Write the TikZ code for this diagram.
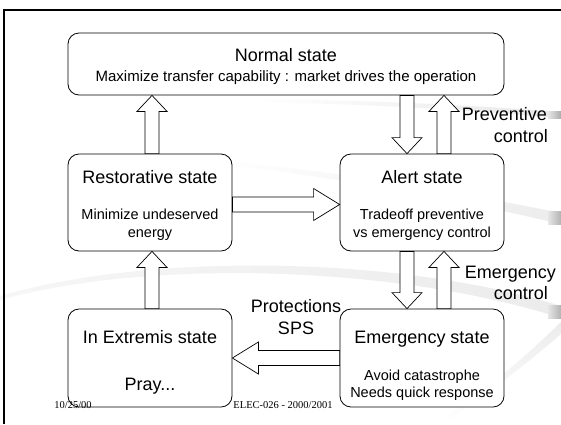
\documentclass[tikz,border=0pt]{standalone}
\usepackage{fontspec}
\setmainfont{Liberation Sans}
\newfontfamily\footfont{Liberation Serif}
\usetikzlibrary{calc}
\newcommand\varrow[3]{%
  \draw[barrow] let \p1=(#1), \p2=(#2) in
  ({\x1-7pt},\y1) -- ({\x1-7pt},{\y2-(#3pt)}) -- ({\x1-15pt},{\y2-(#3pt)}) -- (\x1,\y2)
  -- ({\x1+15pt},{\y2-(#3pt)}) -- ({\x1+7pt},{\y2-(#3pt)}) -- ({\x1+7pt},\y1) -- cycle;}
\newcommand\harrow[3]{%
  \draw[barrow] let \p1=(#1), \p2=(#2) in
  (\x1,{\y1+7.5pt}) -- ({\x2-(#3pt)},{\y1+7.5pt}) -- ({\x2-(#3pt)},{\y1+16pt}) -- (\x2,\y1)
  -- ({\x2-(#3pt)},{\y1-16pt}) -- ({\x2-(#3pt)},{\y1-7.5pt}) -- (\x1,{\y1-7.5pt}) -- cycle;}
\begin{document}
\begin{tikzpicture}[x=1pt,y=-1pt,
  statebox/.style={draw=black, line width=0.8pt, rounded corners=11pt, fill=white, inner sep=0pt},
  ttl/.style={font=\fontsize{18}{21}\selectfont, inner sep=0pt, anchor=base},
  sub/.style={font=\fontsize{14.5}{17}\selectfont, inner sep=0pt, anchor=base},
  foot/.style={font=\footfont\fontsize{10.5}{12}\selectfont, inner sep=0pt, anchor=base},
  barrow/.style={draw=black, line width=0.7pt, fill=white, line join=miter}]
\useasboundingbox (0,0) rectangle (561,424);
\fill[white] (0,0) rectangle (561,424);
% background swooshes
\shade[left color=white, right color=gray!18] (250,99) .. controls (380,100) and (480,106) .. (561,112) -- (561,118) .. controls (480,111) and (380,104) .. (250,102) -- cycle;
\shade[left color=gray!20, right color=gray!65] (548,111) rectangle (561,118);
\shade[left color=white, right color=gray!15] (210,160) .. controls (350,172) and (470,195) .. (561,213) -- (561,224) .. controls (470,203) and (350,178) .. (210,163) -- cycle;
\shade[left color=gray!20, right color=gray!60] (548,211) rectangle (561,224);
\shade[left color=gray!7, middle color=white, right color=gray!15] (0,296) .. controls (150,252) and (400,256) .. (561,306) -- (561,318) .. controls (400,266) and (150,258) .. (0,300) -- cycle;
\shade[left color=gray!20, right color=gray!60] (548,305) rectangle (561,318);
\shade[top color=gray!15, bottom color=white] (561,322) .. controls (520,362) and (480,395) .. (436,424) -- (442,424) .. controls (484,397) and (524,366) .. (561,334) -- cycle;
% frame
\draw[line width=2.6pt, line join=miter] (4,424) -- (4,10) -- (561,10);
% boxes
\node[statebox, minimum width=436pt, minimum height=62pt] (normal) at (286,64) {};
\node[statebox, minimum width=164pt, minimum height=97pt] (restor) at (150,202.5) {};
\node[statebox, minimum width=164pt, minimum height=97pt] (alert) at (422,202.5) {};
\node[statebox, minimum width=164pt, minimum height=98pt] (extrem) at (150,358) {};
\node[statebox, minimum width=164pt, minimum height=98pt] (emerg) at (422,358) {};
% texts
\node[ttl] (tnormal) at (286,61) {Normal state};
\node[sub, font=\fontsize{15}{17}\selectfont] (snormal) at (286,81) {Maximize transfer capability : market drives the operation};
\node[ttl] (trestor) at (150,183) {Restorative state};
\node[sub] (srestorA) at (150,219) {Minimize undeserved};
\node[sub] (srestorB) at (150,237) {energy};
\node[ttl] (talert) at (422,183) {Alert state};
\node[sub] (salertA) at (422,219) {Tradeoff preventive};
\node[sub] (salertB) at (422,237) {vs emergency control};
\node[ttl] (textrem) at (150,343) {In Extremis state};
\node[ttl] (sextrem) at (150,390) {Pray...};
\node[ttl] (temerg) at (422,343) {Emergency state};
\node[sub] (semergA) at (422,380) {Avoid catastrophe};
\node[sub] (semergB) at (422,397) {Needs quick response};
\node[ttl, anchor=base east] (prevA) at (547,120.5) {Preventive};
\node[ttl, anchor=base east] (prevB) at (548,142.5) {control};
\node[ttl, anchor=base east] (emcA) at (556,278.5) {Emergency};
\node[ttl, anchor=base east] (emcB) at (548,299.5) {control};
\node[ttl] (protA) at (296,312) {Protections};
\node[ttl] (protB) at (296,334) {SPS};
\node[foot] (fdate) at (73,408) {10/25/00};
\node[foot] (fcourse) at (283,408) {ELEC-026 - 2000/2001};
% arrow end points
\coordinate (a1s) at ($(restor.north)+(2,0)$);
\coordinate (a1t) at (normal.south -| a1s);
\coordinate (a2s) at ($(normal.south -| alert.north)+(-15,0)$);
\coordinate (a2t) at (alert.north -| a2s);
\coordinate (a3s) at ($(alert.north)+(22,0)$);
\coordinate (a3t) at (normal.south -| a3s);
\coordinate (a4s) at ($(alert.south)+(-15,0)$);
\coordinate (a4t) at (emerg.north -| a4s);
\coordinate (a5s) at ($(emerg.north)+(22,0)$);
\coordinate (a5t) at (alert.south -| a5s);
\coordinate (a6s) at ($(extrem.north)+(2,0)$);
\coordinate (a6t) at (restor.south -| a6s);
\coordinate (a7s) at ($(restor.east)+(0,2)$);
\coordinate (a7t) at (alert.west |- a7s);
\coordinate (a8s) at (emerg.west);
\coordinate (a8t) at (extrem.east |- a8s);
% block arrows
\varrow{a1s}{a1t}{16}
\varrow{a2s}{a2t}{-16}
\varrow{a3s}{a3t}{16}
\varrow{a4s}{a4t}{-16}
\varrow{a5s}{a5t}{16}
\varrow{a6s}{a6t}{16}
\harrow{a7s}{a7t}{26}
\harrow{a8s}{a8t}{-26}
\end{tikzpicture}
\end{document}
